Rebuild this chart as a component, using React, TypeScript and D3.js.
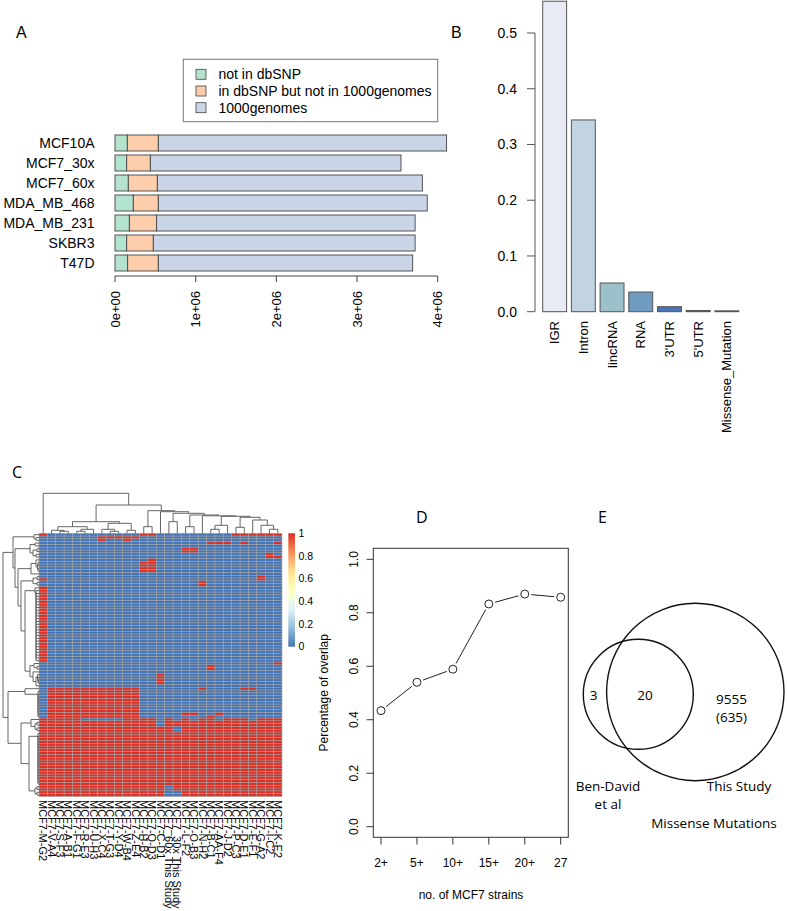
import React from 'react';
import * as d3 from 'd3';

const SANS = '"Liberation Sans", Arial, Helvetica, sans-serif';
const HUM = '"Open Sans", "Noto Sans", sans-serif';

// ---------------- Panel A data ----------------
const cellLines = ['MCF10A', 'MCF7_30x', 'MCF7_60x', 'MDA_MB_468', 'MDA_MB_231', 'SKBR3', 'T47D'];
const notInDbSNP = [153000, 145000, 165000, 227000, 178000, 145000, 157000];
const inDbSNPNot1000G = [384000, 293000, 360000, 310000, 338000, 330000, 380000];
const in1000G = [3573000, 3107000, 3285000, 3333000, 3204000, 3245000, 3153000];
const seriesA = ['not in dbSNP', 'in dbSNP but not in 1000genomes', '1000genomes'];
const colorsA = ['#B3E2CD', '#FDCDAC', '#CBD5E8'];
const ticksA = [0, 1e6, 2e6, 3e6, 4e6];
const tickLabelsA = ['0e+00', '1e+06', '2e+06', '3e+06', '4e+06'];

// ---------------- Panel B data ----------------
const regions = ['IGR', 'Intron', 'lincRNA', 'RNA', "3'UTR", "5'UTR", 'Missense_Mutation'];
const regionFraction = [0.557, 0.344, 0.0515, 0.0353, 0.009, 0.0022, 0.0015];
const regionColors = ['#E8EBF4', '#C2D4E1', '#9DC1CA', '#6F9BC0', '#4B74B2', '#1E2E58', '#111122'];
const ticksB = [0, 0.1, 0.2, 0.3, 0.4, 0.5];

// ---------------- Panel C data ----------------
const strainLabels = [
  'MCF7-M-G2', 'MCF7-V-A4', 'MCF7-S-F3', 'MCF7-A-B1', 'MCF7-F-G1', 'MCF7-R-E3', 'MCF7-U-H3',
  'MCF7-X-C4', 'MCF7-T-G3', 'MCF7-Y-D4', 'MCF7-W-B4', 'MCF7-Z-E4', 'MCF7-H-B2', 'MCF7-Q-D3',
  'MCF7-C-D1', 'MCF7_60x This Study', 'MCF7_30x This Study', 'MCF7-L-F2', 'MCF7-O-B3',
  'MCF7-N-H2', 'MCF7-B-C1', 'MCF7-AA-F4', 'MCF7-J-D2', 'MCF7-P-C3', 'MCF7-D-E1', 'MCF7-E-F1',
  'MCF7-G-A2', 'MCF7-I-C2', 'MCF7-K-E2',
];
const mutationRows = [
  '10000000000011000000000111111',
  '00000001111100000000000000000',
  '00000001001000000000000000000',
  '00000000000000000000111010001',
  '00000000000000000000000000000',
  '00000000000000000110000000000',
  '00000000000000000110000000000',
  '00000000000000000000000000010',
  '00000000000000000000000000011',
  '00000000000001000000000000000',
  '00000000000011000000000000000',
  '00000000000011000000000000000',
  '00000000000011000000000000000',
  '00000000000011000000000000000',
  '00000000000000000000000000000',
  '00000000000000000000000000100',
  '10000000000000000000000000100',
  '00000000000000000001000000000',
  '00000000000000000001000000000',
  '10000000000000000000000000000',
  '10000000000000000000000000000',
  '10000000000000000000000000000',
  '10000000000000000000000000000',
  '10000000000000000000000000000',
  '10000000000000000000000000000',
  '10000000000000000000000000000',
  '10000000000000000000000000000',
  '10000000000000000000000000000',
  '10000000000000000000000000000',
  '10000000000000000000000000000',
  '10000000000000000000000000000',
  '10000000000000000000000000000',
  '10000000000000000000000000000',
  '10000000000000000000000000000',
  '10000000000000000000000000000',
  '10000000000000000000000000000',
  '10000000000000000000000000000',
  '10000000000000000000000000000',
  '10000000000000000000000000000',
  '10000000000000000000000000000',
  '10000000000000000000000000000',
  '10000000000000000000000000000',
  '10000000000000000000000000000',
  '10000000000000000000000000000',
  '10000000000000000000000000000',
  '10000000000000000000000000000',
  '00000000000000000000000000001',
  '00000000000000000000100000000',
  '00000000000000000000100000000',
  '00000000000000000000000000000',
  '00000000000000100000000000000',
  '00000000000000100000000000000',
  '00000000000000100000000000000',
  '00000000000000100000000000000',
  '00000000000000000000000000000',
  '01111111111100000001000011000',
  '01111111111100000000000000000',
  '01111111111100000000000000000',
  '01111111111100000000000000000',
  '01111111111100000000000000000',
  '01111111111100000000000000000',
  '01111111111100000000000000000',
  '01111111111100000000000000000',
  '01111111111100000000000000000',
  '01111111111100000110010000000',
  '01111111111100000000100000000',
  '11111000001111010101101110111',
  '11111111111111011111111111111',
  '11111111111111011111111111111',
  '11111111111111110111111111111',
  '11111111111111110111111111111',
  '11111111111111111111111111111',
  '11111111111111111111111111111',
  '11111111111111111111111111111',
  '11111111111111111111111111111',
  '11111111111111111111111111111',
  '11111111111111111111111111111',
  '11111111111111111111111111111',
  '11111111111111111111111111111',
  '11111111111111111111111111111',
  '11111111111111111111111111111',
  '11111111111111111111111111111',
  '11111111111111111111111111111',
  '11111111111111111111111111111',
  '11111111111111111111111111111',
  '11111111111111111111111111111',
  '11111111111111111111111111111',
  '11111111111111111111111111111',
  '11111111111111111111111111111',
  '11111111111111111111111111111',
  '11111111111111101111111111111',
  '11111111111111101111111111111',
  '11111111111111100111111111111',
  '11111111111111100111111111111',
];
type TreeNode = number | [number, TreeNode, TreeNode];
// ladder of (near-)identical leaves merged at a tiny height
function ladder(a: number, b: number, h: number): TreeNode {
  return a === b ? a : [h, a, ladder(a + 1, b, h)];
}
const colTree: TreeNode = [40, 0,
  [28.3,
    [11.6,
      [6.6, [3, 1, [2, 2, 3]], [4, [2, 4, 5], 6]],
      [10, [4, 7, [2, 8, 9]], [3, 10, 11]]],
    [22.6,
      [6.6, 12, 13],
      [21.6, 14,
        [20,
          [11.6, 15, 16],
          [18.3,
            [6.6, 17, 18],
            [17.5, 19,
              [17,
                [8, [4, 20, 21], 22],
                [16, [6, 23, 24], [13.3, 25, [8, 26, [4, 27, 28]]]]]]]]]]]];
const rowTree: TreeNode = [36,
  [26, [5, 0, [3, 1, 2]],
    [24, [9, [4, 3, 4], [6, [2, 5, 6], [3, 7, 8]]],
      [21, [8, [3, 9, [1.5, [1, 10, 11], [1, 12, 13]]], 14],
        [18, [6, [2, 15, 16], [2, 17, 18]],
          [14, [4, 19, ladder(20, 45, 3)],
            [9, [5, 46, [2, 47, 48]], [6, 49, [3, [1.5, 50, [1, 51, [1, 52, 53]]], 54]]]]]]]],
  [31, [14, 55, ladder(56, 65, 1)],
    [18, [8, 66, [4, [2, 67, 68], [2, 69, 70]]], [10, ladder(71, 89, 1), [4, [2, 90, 91], [2, 92, 93]]]]]];
const legendValuesC = [0, 0.2, 0.4, 0.6, 0.8, 1];
const legendLabelsC = ['0', '0.2', '0.4', '0.6', '0.8', '1'];
const heatPalette = ['#4575B4', '#91BFDB', '#E0F3F8', '#FFFFBF', '#FEE090', '#FC8D59', '#D73027'];

// ---------------- Panel D data ----------------
const strainBins = ['2+', '5+', '10+', '15+', '20+', '27'];
const overlapFraction = [0.434, 0.54, 0.589, 0.833, 0.87, 0.858];
const ticksD = [0, 0.2, 0.4, 0.6, 0.8, 1];
const tickLabelsD = ['0.0', '0.2', '0.4', '0.6', '0.8', '1.0'];

// ---------------- Panel E data ----------------
const vennCountLabels = ['3', '20', '9555', '(635)'];
const vennSetLabels = ['Ben-David', 'et al', 'This Study'];
const vennTitle = 'Missense Mutations';

function layoutTree(node: TreeNode, leafPos: (i: number) => number, toCoord: (h: number) => number,
  orient: 'top' | 'left', segs: string[]): { p: number; h: number } {
  if (typeof node === 'number') return { p: leafPos(node), h: 0 };
  const [h, l, r] = node;
  const a = layoutTree(l, leafPos, toCoord, orient, segs);
  const b = layoutTree(r, leafPos, toCoord, orient, segs);
  if (orient === 'top') {
    segs.push(`M${a.p},${toCoord(a.h)}V${toCoord(h)}H${b.p}V${toCoord(b.h)}`);
  } else {
    segs.push(`M${toCoord(a.h)},${a.p}H${toCoord(h)}V${b.p}H${toCoord(b.h)}`);
  }
  return { p: (a.p + b.p) / 2, h };
}

function PanelA() {
  const x = d3.scaleLinear().domain([0, 4e6]).range([115, 437.7]);
  const y = d3.scaleBand<string>().domain(cellLines).range([133, 273]).paddingInner(0.2).paddingOuter(0.1);
  const stack = cellLines.map((c, i) => {
    const v = [notInDbSNP[i], inDbSNPNot1000G[i], in1000G[i]];
    let acc = 0;
    return v.map((val, k) => { const s = acc; acc += val; return { c, k, s, e: acc }; });
  });
  const axisY = 276;
  return (
    <g fontFamily={SANS}>
      <text x={16} y={38} fontSize={16}>A</text>
      <rect x={183.3} y={59.3} width={254.4} height={62.4} fill="none" stroke="#777" strokeWidth={1} />
      {seriesA.map((s, i) => (
        <g key={s}>
          <rect x={196} y={69.3 + i * 16.7} width={10} height={10} fill={colorsA[i]} stroke="#444" strokeWidth={0.8} />
          <text x={218.5} y={74.3 + i * 16.7} dy="0.35em" fontSize={14}>{s}</text>
        </g>
      ))}
      {stack.map((row) => row.map((seg) => (
        <rect key={seg.c + seg.k} x={x(seg.s)} y={y(seg.c)!} width={x(seg.e) - x(seg.s)} height={y.bandwidth()}
          fill={colorsA[seg.k]} stroke="#444" strokeWidth={0.9} />
      )))}
      {cellLines.map((c) => (
        <text key={c} x={94.5} y={y(c)! + y.bandwidth() / 2} dy="0.35em" textAnchor="end" fontSize={14}>{c}</text>
      ))}
      <line x1={x(0)} x2={x(4e6)} y1={axisY} y2={axisY} stroke="#444" />
      {ticksA.map((t, i) => (
        <g key={t}>
          <line x1={x(t)} x2={x(t)} y1={axisY} y2={axisY + 6} stroke="#444" />
          <text transform={`translate(${x(t)},${axisY + 15}) rotate(-90)`} dy="0.35em" textAnchor="end" fontSize={13}>{tickLabelsA[i]}</text>
        </g>
      ))}
    </g>
  );
}

function PanelB() {
  const y = d3.scaleLinear().domain([0, 0.5]).range([311.7, 33]);
  const x = d3.scaleBand<string>().domain(regions).range([537.9, 743.6]).paddingInner(1 / 6).paddingOuter(1 / 6);
  return (
    <g fontFamily={SANS}>
      <text x={451} y={38} fontSize={16}>B</text>
      {regions.map((r, i) => (
        <rect key={r} x={x(r)!} y={y(regionFraction[i])} width={x.bandwidth()}
          height={Math.max(0, y(0) - y(regionFraction[i]))} fill={regionColors[i]} stroke="#555" strokeWidth={1} />
      ))}
      <line x1={535} x2={535} y1={y(0)} y2={y(0.5)} stroke="#555" />
      {ticksB.map((t) => (
        <g key={t}>
          <line x1={527} x2={535} y1={y(t)} y2={y(t)} stroke="#555" />
          <text x={517} y={y(t)} dy="0.35em" textAnchor="end" fontSize={14}>{t.toFixed(1)}</text>
        </g>
      ))}
      {regions.map((r) => (
        <text key={r} transform={`translate(${x(r)! + x.bandwidth() / 2},${321}) rotate(-90)`} dy="0.35em"
          textAnchor="end" fontSize={13}>{r}</text>
      ))}
    </g>
  );
}

function PanelC() {
  const top = 533.3, bottom = 796.5, left = 39, right = 282;
  const nRows = mutationRows.length;
  const xc = d3.scaleBand<number>().domain(d3.range(strainLabels.length)).range([left, right]);
  const yr = d3.scaleBand<number>().domain(d3.range(nRows)).range([top, bottom]);
  const color = d3.scaleLinear<string>().domain(heatPalette.map((_, i) => i / (heatPalette.length - 1))).range(heatPalette);
  const hColScale = d3.scaleLinear().domain([0, 40]).range([top, top - 40]);
  const hRowScale = d3.scaleLinear().domain([0, 36]).range([left, left - 36]);
  const colSegs: string[] = [];
  layoutTree(colTree, (i) => xc(i)! + xc.bandwidth() / 2, (h) => hColScale(h), 'top', colSegs);
  const rowSegs: string[] = [];
  layoutTree(rowTree, (i) => yr(i)! + yr.bandwidth() / 2, (h) => hRowScale(h), 'left', rowSegs);
  const legY = d3.scaleLinear().domain([0, 1]).range([646.7, 533.3]);
  return (
    <g>
      <text x={12} y={478} fontSize={16} fontFamily={HUM}>C</text>
      <defs>
        <linearGradient id="heatgrad" x1="0" y1="1" x2="0" y2="0">
          {heatPalette.map((c, i) => (
            <stop key={i} offset={`${(i / (heatPalette.length - 1)) * 100}%`} stopColor={c} />
          ))}
        </linearGradient>
      </defs>
      {mutationRows.map((row, r) => row.split('').map((v, c) => (
        <rect key={`${r}-${c}`} x={xc(c)!} y={yr(r)!} width={xc.bandwidth()} height={yr.bandwidth()}
          fill={color(+v)} stroke="#A3A3A3" strokeWidth={0.5} />
      )))}
      <path d={colSegs.join('')} fill="none" stroke="#555" strokeWidth={0.9} />
      <path d={rowSegs.join('')} fill="none" stroke="#555" strokeWidth={0.9} />
      <rect x={288.3} y={legY(1)} width={6.7} height={legY(0) - legY(1)} fill="url(#heatgrad)" />
      {legendValuesC.map((v, i) => (
        <text key={v} x={298.5} y={legY(v)} dy="0.35em" fontSize={10.5} fontFamily={SANS}>{legendLabelsC[i]}</text>
      ))}
      {strainLabels.map((s, i) => (
        <text key={s} transform={`translate(${xc(i)! + xc.bandwidth() / 2},${800}) rotate(90)`} dy="0.35em"
          fontSize={11} fontFamily={SANS}>{s}</text>
      ))}
    </g>
  );
}

function PanelD() {
  const x = d3.scalePoint<string>().domain(strainBins).range([381, 560.7]);
  const y = d3.scaleLinear().domain([0, 1]).range([826.7, 559.3]);
  const pts = strainBins.map((s, i) => ({ x: x(s)!, y: y(overlapFraction[i]) }));
  const gap = 6.5;
  const segs = pts.slice(1).map((p, i) => {
    const a = pts[i];
    const dx = p.x - a.x, dy = p.y - a.y, len = Math.hypot(dx, dy);
    const ux = dx / len, uy = dy / len;
    return { x1: a.x + ux * gap, y1: a.y + uy * gap, x2: p.x - ux * gap, y2: p.y - uy * gap };
  });
  return (
    <g fontFamily={SANS}>
      <text x={416} y={523} fontSize={16} fontFamily={HUM}>D</text>
      <rect x={373.3} y={548.3} width={195} height={289} fill="none" stroke="#333" strokeWidth={1} />
      {ticksD.map((t, i) => (
        <g key={t}>
          <line x1={366.5} x2={373.3} y1={y(t)} y2={y(t)} stroke="#333" />
          <text transform={`translate(${357.5},${y(t)}) rotate(-90)`} textAnchor="middle" fontSize={12}>{tickLabelsD[i]}</text>
        </g>
      ))}
      {strainBins.map((s) => (
        <g key={s}>
          <line x1={x(s)!} x2={x(s)!} y1={837.3} y2={844.5} stroke="#333" />
          <text x={x(s)!} y={867} textAnchor="middle" fontSize={12}>{s}</text>
        </g>
      ))}
      <text x={471} y={899} textAnchor="middle" fontSize={12}>no. of MCF7 strains</text>
      <text transform={`translate(${328},${692.8}) rotate(-90)`} textAnchor="middle" fontSize={12}>Percentage of overlap</text>
      {segs.map((s, i) => (
        <line key={i} x1={s.x1} y1={s.y1} x2={s.x2} y2={s.y2} stroke="#222" strokeWidth={1} />
      ))}
      {pts.map((p, i) => (
        <circle key={i} cx={p.x} cy={p.y} r={4} fill="white" stroke="#222" strokeWidth={1} />
      ))}
    </g>
  );
}

function PanelE() {
  return (
    <g fontFamily={HUM} fontSize={13.5}>
      <text x={598} y={523} fontSize={16}>E</text>
      <circle cx={695.3} cy={692} r={88.7} fill="none" stroke="#111" strokeWidth={1.4} />
      <circle cx={638.3} cy={694.3} r={55} fill="none" stroke="#111" strokeWidth={1.4} />
      <text x={593.5} y={700} textAnchor="middle">{vennCountLabels[0]}</text>
      <text x={645} y={700} textAnchor="middle">{vennCountLabels[1]}</text>
      <text x={731.5} y={704} textAnchor="middle">{vennCountLabels[2]}</text>
      <text x={731.5} y={722} textAnchor="middle">{vennCountLabels[3]}</text>
      <text x={608} y={791} textAnchor="middle">{vennSetLabels[0]}</text>
      <text x={608} y={809} textAnchor="middle">{vennSetLabels[1]}</text>
      <text x={739} y={791} textAnchor="middle">{vennSetLabels[2]}</text>
      <text x={714} y={828} textAnchor="middle">{vennTitle}</text>
    </g>
  );
}

export default function App() {
  return (
    <svg width={787} height={911} style={{ position: 'absolute', left: 0, top: 0, background: 'white' }}>
      <PanelA />
      <PanelB />
      <PanelC />
      <PanelD />
      <PanelE />
    </svg>
  );
}
